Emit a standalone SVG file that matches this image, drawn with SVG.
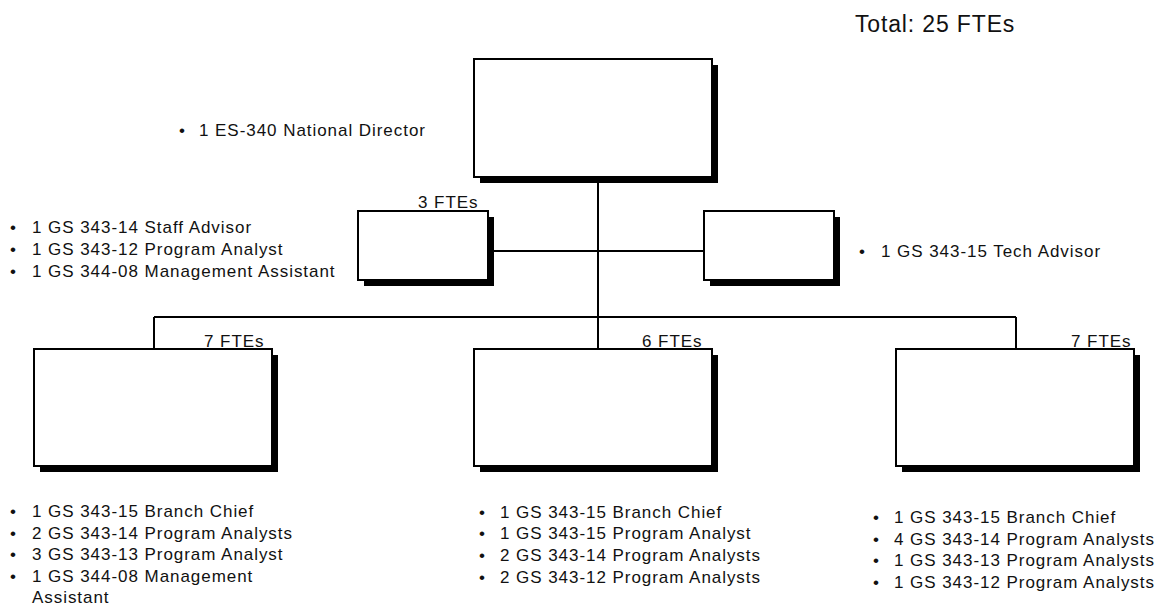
<svg xmlns="http://www.w3.org/2000/svg" width="1169" height="605" viewBox="0 0 1169 605">
<style>
.box{fill:#fff;stroke:#000;stroke-width:2}
.sh{fill:#000}
.ln{stroke:#000;stroke-width:2;fill:none}
text{font-family:"Liberation Sans",Arial,sans-serif;font-size:17px;fill:#111;letter-spacing:0.95px}
.big{font-size:23px;letter-spacing:0.85px}
</style>
<rect width="1169" height="605" fill="#fff"/>
<g id="connectors">
<path class="ln" d="M598,177 V349 M488,251 H704 M154,317 H1016 M154,317 V349 M1016,317 V349"/>
</g>
<g id="director">
<rect class="sh" x="480" y="65" width="238" height="118"/>
<rect class="box" x="474" y="59" width="238" height="118"/>
</g>
<g id="staff">
<rect class="sh" x="364" y="217" width="130" height="69"/>
<rect class="box" x="358" y="211" width="130" height="69"/>
<text x="418" y="208">3 FTEs</text>
</g>
<g id="tech">
<rect class="sh" x="710" y="217" width="130" height="69"/>
<rect class="box" x="704" y="211" width="130" height="69"/>
</g>
<g id="branch1">
<rect class="sh" x="40" y="355" width="238" height="117"/>
<rect class="box" x="34" y="349" width="238" height="117"/>
<text x="204" y="347">7 FTEs</text>
</g>
<g id="branch2">
<rect class="sh" x="480" y="355" width="238" height="117"/>
<rect class="box" x="474" y="349" width="238" height="117"/>
<text x="642" y="347">6 FTEs</text>
</g>
<g id="branch3">
<rect class="sh" x="902" y="355" width="238" height="117"/>
<rect class="box" x="896" y="349" width="238" height="117"/>
<text x="1071" y="347">7 FTEs</text>
</g>
<g id="labels">
<text class="big" x="855" y="32">Total: 25 FTEs</text>
<text x="179" y="136">•</text><text x="199" y="136">1 ES-340 National Director</text>
<text x="10" y="233">•</text><text x="32" y="233">1 GS 343-14 Staff Advisor</text>
<text x="10" y="255">•</text><text x="32" y="255">1 GS 343-12 Program Analyst</text>
<text x="10" y="277">•</text><text x="32" y="277">1 GS 344-08 Management Assistant</text>
<text x="859" y="257">•</text><text x="881" y="257">1 GS 343-15 Tech Advisor</text>
<text x="10" y="517">•</text><text x="32" y="517">1 GS 343-15 Branch Chief</text>
<text x="10" y="539">•</text><text x="32" y="539">2 GS 343-14 Program Analysts</text>
<text x="10" y="560">•</text><text x="32" y="560">3 GS 343-13 Program Analyst</text>
<text x="10" y="582">•</text><text x="32" y="582">1 GS 344-08 Management</text>
<text x="32" y="603">Assistant</text>
<text x="479" y="518">•</text><text x="500" y="518">1 GS 343-15 Branch Chief</text>
<text x="479" y="539">•</text><text x="500" y="539">1 GS 343-15 Program Analyst</text>
<text x="479" y="561">•</text><text x="500" y="561">2 GS 343-14 Program Analysts</text>
<text x="479" y="583">•</text><text x="500" y="583">2 GS 343-12 Program Analysts</text>
<text x="873" y="523">•</text><text x="894" y="523">1 GS 343-15 Branch Chief</text>
<text x="873" y="545">•</text><text x="894" y="545">4 GS 343-14 Program Analysts</text>
<text x="873" y="566">•</text><text x="894" y="566">1 GS 343-13 Program Analysts</text>
<text x="873" y="588">•</text><text x="894" y="588">1 GS 343-12 Program Analysts</text>
</g>
</svg>
